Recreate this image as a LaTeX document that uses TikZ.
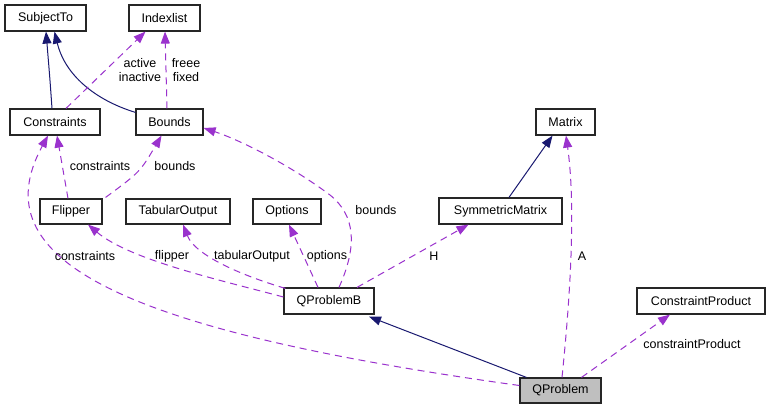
\documentclass[tikz,border=0pt]{standalone}
\usepackage{fontspec}
\setmainfont{Liberation Sans}
\usetikzlibrary{arrows.meta,calc}
\definecolor{inhcol}{HTML}{191970}
\definecolor{usecol}{HTML}{9A32CD}
\begin{document}
\begin{tikzpicture}[x=1pt,y=-1pt,
  cls/.style={draw=black!85,line width=1.2pt,inner sep=0pt,font=\fontsize{12.5}{14}\selectfont},
  inh/.style={draw=inhcol,line width=1pt,-{Triangle[length=12pt,width=9pt,fill=inhcol]}},
  use/.style={draw=usecol,line width=1pt,dash pattern=on 7pt off 5pt,-{Triangle[length=12pt,width=9pt,fill=usecol]}},
  lbl/.style={font=\fontsize{12.5}{14}\selectfont,inner sep=0pt,align=center}]
\fill[white] (0,0) rectangle (769,409);
\useasboundingbox (0,0) rectangle (769,409);
% classes
\node[cls,minimum width=81pt,minimum height=26pt] (SubjectTo) at (45.5,18) {SubjectTo};
\node[cls,minimum width=71pt,minimum height=26pt] (Indexlist) at (164.5,18) {Indexlist};
\node[cls,minimum width=90pt,minimum height=26pt] (Constraints) at (55,122) {Constraints};
\node[cls,minimum width=67pt,minimum height=26pt] (Bounds) at (169.5,122) {Bounds};
\node[cls,minimum width=59pt,minimum height=26pt] (Matrix) at (565.5,122) {Matrix};
\node[cls,minimum width=123pt,minimum height=26pt] (SymmetricMatrix) at (500.5,211) {SymmetricMatrix};
\node[cls,minimum width=62pt,minimum height=25pt] (Flipper) at (71,211.5) {Flipper};
\node[cls,minimum width=104pt,minimum height=25pt] (TabularOutput) at (178,211.5) {TabularOutput};
\node[cls,minimum width=68pt,minimum height=25pt] (Options) at (287,211.5) {Options};
\node[cls,minimum width=90pt,minimum height=26pt] (QProblemB) at (329,301) {QProblemB};
\node[cls,minimum width=128pt,minimum height=26pt] (ConstraintProduct) at (701,301) {ConstraintProduct};
\node[cls,fill=black!25,minimum width=81pt,minimum height=25pt] (QProblem) at (560.5,390.5) {QProblem};
% inheritance
\draw[inh] ($(Constraints.north)+(-3,0)$) .. controls (50,80) .. ($(SubjectTo.south)+(0.5,0)$);
\draw[inh] ($(Bounds.north west)+(0,4)$) .. controls (95,100) and (65,75) .. ($(SubjectTo.south)+(9,0)$);
\draw[inh] ($(SymmetricMatrix.north)+(8.5,0)$) -- ($(Matrix.south)+(-13,0)$);
\draw[inh] ($(QProblem.north west)+(7,0)$) -- ($(QProblemB.south)+(40,2)$);
% usage
\draw[use] ($(Constraints.north)+(11,0)$) -- ($(Indexlist.south)+(-19,0)$);
\draw[use] ($(Bounds.north)+(-2.5,0)$) -- ($(Indexlist.south)+(0.5,0)$);
\draw[use] ($(Flipper.north)+(-3,0)$) -- ($(Constraints.south)+(2,0)$);
\draw[use] ($(Flipper.north east)+(3,-1)$) .. controls (140,172) .. ($(Bounds.south)+(-8,0)$);
\draw[use] ($(QProblemB.north)+(10,0)$) .. controls (358,245) and (355,215) .. (330,195) .. controls (290,165) and (240,140) .. ($(Bounds.east)+(0,6)$);
\draw[use] ($(QProblemB.west)+(0,-4)$) .. controls (220,280) and (130,260) .. ($(Flipper.south)+(17,0)$);
\draw[use] ($(QProblemB.north west)+(2,1)$) .. controls (240,275) and (195,255) .. ($(TabularOutput.south)+(5,0)$);
\draw[use] ($(QProblemB.north)+(-11,0)$) .. controls (310,270) .. ($(Options.south)+(2,0)$);
\draw[use] ($(QProblemB.north)+(28,0)$) -- ($(SymmetricMatrix.south)+(-32,0)$);
\draw[use] ($(QProblem.north)+(1.5,0)$) .. controls (572,280) and (575,200) .. ($(Matrix.south)+(0.5,0)$);
\draw[use] ($(QProblem.north)+(21,0)$) -- ($(ConstraintProduct.south)+(-31,0)$);
\draw[use] ($(QProblem.west)+(0,-5)$) .. controls (120,330) and (-20,260) .. ($(Constraints.south)+(-7,0)$);
% labels
\node[lbl] (l1) at (140,70) {active\\inactive};
\node[lbl] (l2) at (186,70) {freee\\fixed};
\node[lbl] (l3) at (100,166) {constraints};
\node[lbl] (l4) at (175,166) {bounds};
\node[lbl] (l5) at (376,210) {bounds};
\node[lbl] (l6) at (85,256) {constraints};
\node[lbl] (l7) at (172,256) {flipper};
\node[lbl] (l8) at (252,256) {tabularOutput};
\node[lbl] (l9) at (327,256) {options};
\node[lbl] (l10) at (434,256) {H};
\node[lbl] (l11) at (582,256) {A};
\node[lbl] (l12) at (692,344) {constraintProduct};
\end{tikzpicture}
\end{document}
